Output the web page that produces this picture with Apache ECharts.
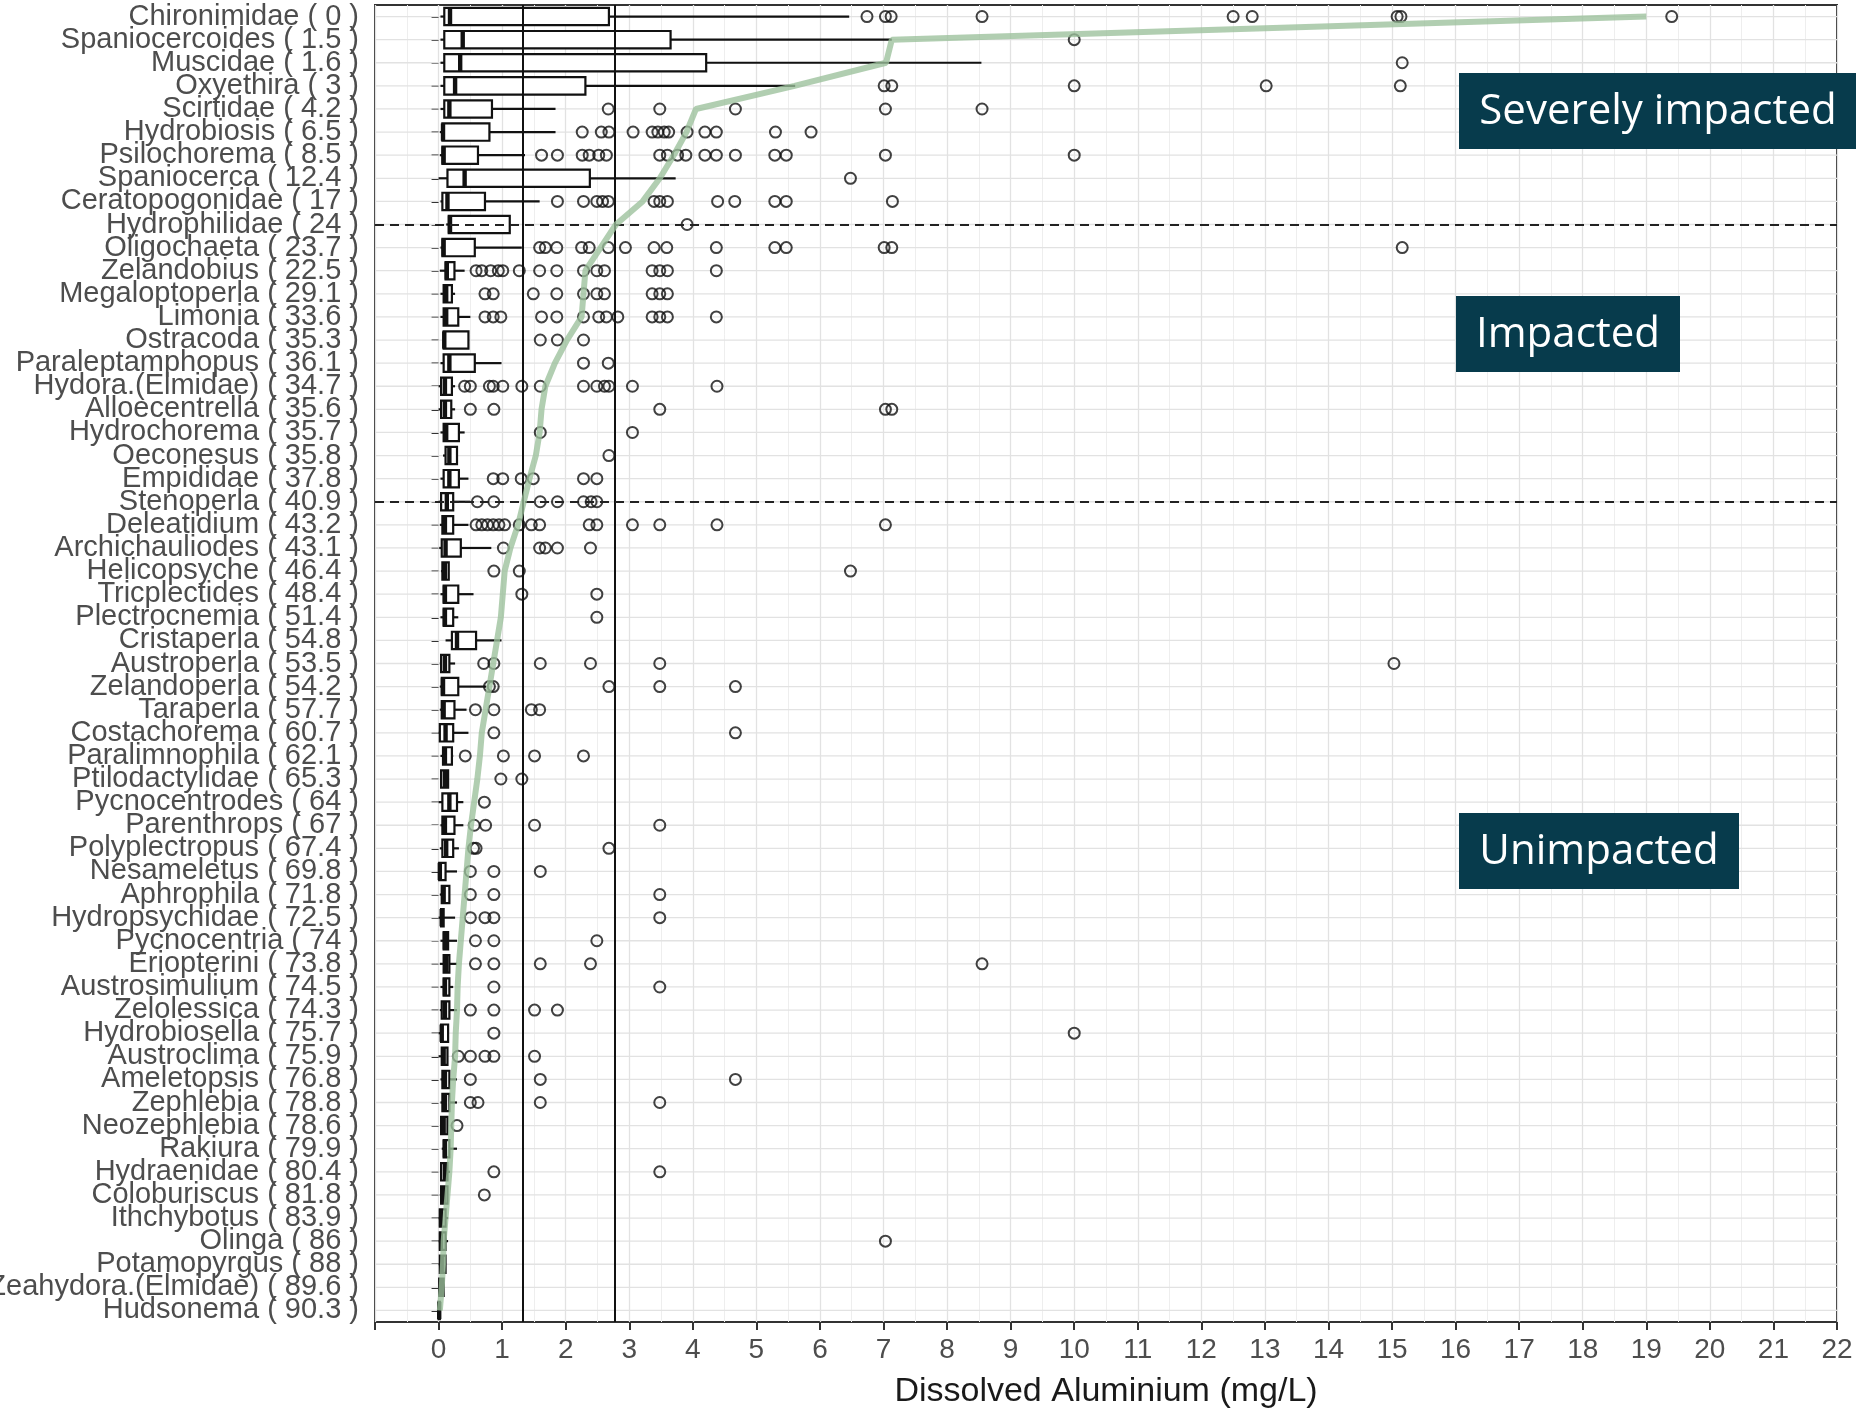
<!DOCTYPE html>
<html>
<head>
<meta charset="utf-8">
<script src="https://cdn.jsdelivr.net/npm/echarts@6/dist/echarts.min.js"></script>
<style>
html,body{margin:0;padding:0;background:#fff;}
#chart{width:1856px;height:1411px;}
</style>
</head>
<body>
<div id="chart"></div>
<script>
const categories = [
  'Chironimidae ( 0 )','Spaniocercoides ( 1.5 )','Muscidae ( 1.6 )','Oxyethira ( 3 )','Scirtidae ( 4.2 )',
  'Hydrobiosis ( 6.5 )','Psilochorema ( 8.5 )','Spaniocerca ( 12.4 )','Ceratopogonidae ( 17 )','Hydrophilidae ( 24 )',
  'Oligochaeta ( 23.7 )','Zelandobius ( 22.5 )','Megaloptoperla ( 29.1 )','Limonia ( 33.6 )','Ostracoda ( 35.3 )',
  'Paraleptamphopus ( 36.1 )','Hydora.(Elmidae) ( 34.7 )','Alloecentrella ( 35.6 )','Hydrochorema ( 35.7 )','Oeconesus ( 35.8 )',
  'Empididae ( 37.8 )','Stenoperla ( 40.9 )','Deleatidium ( 43.2 )','Archichauliodes ( 43.1 )','Helicopsyche ( 46.4 )',
  'Tricplectides ( 48.4 )','Plectrocnemia ( 51.4 )','Cristaperla ( 54.8 )','Austroperla ( 53.5 )','Zelandoperla ( 54.2 )',
  'Taraperla ( 57.7 )','Costachorema ( 60.7 )','Paralimnophila ( 62.1 )','Ptilodactylidae ( 65.3 )','Pycnocentrodes ( 64 )',
  'Parenthrops ( 67 )','Polyplectropus ( 67.4 )','Nesameletus ( 69.8 )','Aphrophila ( 71.8 )','Hydropsychidae ( 72.5 )',
  'Pycnocentria ( 74 )','Eriopterini ( 73.8 )','Austrosimulium ( 74.5 )','Zelolessica ( 74.3 )','Hydrobiosella ( 75.7 )',
  'Austroclima ( 75.9 )','Ameletopsis ( 76.8 )','Zephlebia ( 78.8 )','Neozephlebia ( 78.6 )','Rakiura ( 79.9 )',
  'Hydraenidae ( 80.4 )','Coloburiscus ( 81.8 )','Ithchybotus ( 83.9 )','Olinga ( 86 )','Potamopyrgus ( 88 )',
  'Zeahydora.(Elmidae) ( 89.6 )','Hudsonema ( 90.3 )'
];
const whiskerLow = [0.03,0.03,0.03,0.03,0.03,0.02,0.02,0.0,0.03,0.12,
  0.03,0.02,0.03,0.03,0.08,0.03,0.0,0.0,0.03,0.07,
  0.03,0.0,0.02,0.01,0.04,0.03,0.03,0.11,0.02,0.02,
  0.02,0.0,0.03,0.03,0.0,0.03,0.02,0.0,0.02,0.0,
  0.03,0.02,0.03,0.02,0.0,0.0,0.03,0.03,0.03,0.05,
  0.03,0.02,0.0,0.0,0.0,0.0,0.0];
const q1 = [0.09,0.09,0.09,0.09,0.09,0.06,0.06,0.14,0.06,0.16,
  0.06,0.11,0.08,0.08,0.08,0.08,0.04,0.04,0.08,0.11,
  0.08,0.04,0.06,0.05,0.06,0.08,0.08,0.21,0.04,0.05,
  0.05,0.02,0.07,0.04,0.06,0.06,0.06,0.01,0.05,0.04,
  0.08,0.08,0.08,0.05,0.04,0.05,0.06,0.06,0.04,0.08,
  0.04,0.04,0.02,0.02,0.02,0.01,0.0];
const median = [0.18,0.38,0.34,0.26,0.17,0.07,0.08,0.41,0.14,0.18,
  0.08,0.13,0.12,0.12,0.09,0.17,0.10,0.10,0.12,0.17,
  0.17,0.13,0.10,0.11,0.10,0.10,0.10,0.29,0.10,0.07,
  0.08,0.11,0.10,0.10,0.17,0.10,0.12,0.02,0.08,0.05,
  0.10,0.12,0.10,0.10,0.05,0.08,0.10,0.10,0.08,0.10,
  0.10,0.08,0.04,0.04,0.05,0.04,0.01];
const q3 = [2.68,3.65,4.21,2.31,0.84,0.80,0.62,2.38,0.73,1.12,
  0.57,0.25,0.21,0.31,0.47,0.57,0.21,0.20,0.32,0.29,
  0.32,0.23,0.23,0.35,0.16,0.31,0.23,0.59,0.17,0.31,
  0.25,0.23,0.21,0.15,0.29,0.25,0.23,0.11,0.17,0.08,
  0.15,0.17,0.17,0.17,0.15,0.14,0.17,0.17,0.14,0.17,
  0.14,0.14,0.11,0.11,0.11,0.08,0.02];
const whiskerHigh = [6.46,7.13,8.54,5.61,1.84,1.84,1.36,3.73,1.59,1.12,
  1.31,0.41,0.26,0.50,0.47,0.99,0.26,0.26,0.41,0.29,
  0.47,0.50,0.47,0.83,0.16,0.55,0.31,0.99,0.26,0.75,
  0.44,0.47,0.23,0.15,0.39,0.39,0.32,0.29,0.17,0.26,
  0.29,0.29,0.23,0.29,0.15,0.14,0.29,0.29,0.14,0.29,
  0.18,0.14,0.15,0.15,0.11,0.08,0.02];
const outliers = [
  [6.74,7.03,7.12,8.55,12.5,12.8,15.08,15.14,19.4],
  [10.0],
  [15.16],
  [7.01,7.13,10.0,13.02,15.13],
  [2.67,3.48,4.67,7.03,8.55],
  [2.26,2.56,2.68,3.06,3.36,3.45,3.55,3.62,3.91,4.19,4.37,5.30,5.86],
  [1.62,1.87,2.26,2.37,2.52,2.64,3.48,3.60,3.76,3.89,4.19,4.37,4.67,5.29,5.47,7.03,10.0],
  [6.48],
  [1.87,2.28,2.49,2.58,2.67,3.39,3.48,3.60,4.39,4.66,5.29,5.47,7.14],
  [3.91],
  [1.59,1.68,1.86,2.25,2.37,2.67,2.94,3.39,3.59,4.37,5.29,5.47,7.01,7.13,15.16],
  [0.59,0.68,0.82,0.94,1.01,1.27,1.59,1.86,2.28,2.49,2.61,3.36,3.48,3.60,4.37],
  [0.73,0.86,1.49,1.86,2.28,2.49,2.61,3.36,3.48,3.60],
  [0.73,0.86,0.98,1.62,1.86,2.28,2.52,2.64,2.82,3.36,3.48,3.60,4.37],
  [1.60,1.87,2.28],
  [2.28,2.67],
  [0.41,0.50,0.80,0.86,1.01,1.31,1.60,2.28,2.49,2.61,2.68,3.05,4.38],
  [0.50,0.87,3.48,7.03,7.13],
  [1.60,3.05],
  [2.68],
  [0.86,1.01,1.30,1.49,2.28,2.49],
  [0.61,0.87,1.60,1.87,2.28,2.40,2.49],
  [0.59,0.68,0.77,0.86,0.95,1.04,1.27,1.46,1.59,2.37,2.49,3.05,3.48,4.38,7.03],
  [1.02,1.59,1.68,1.87,2.39],
  [0.87,1.27,6.48],
  [1.31,2.49],
  [2.49],
  [],
  [0.71,0.87,1.60,2.39,3.48,15.03],
  [0.80,0.86,2.68,3.48,4.67],
  [0.58,0.87,1.46,1.59],
  [0.87,4.67],
  [0.42,1.02,1.51,2.28],
  [0.98,1.31],
  [0.72],
  [0.56,0.74,1.51,3.48],
  [0.55,0.59,2.68],
  [0.50,0.87,1.60],
  [0.50,0.87,3.48],
  [0.50,0.73,0.87,3.48],
  [0.58,0.87,2.49],
  [0.58,0.87,1.60,2.39,8.55],
  [0.87,3.48],
  [0.50,0.87,1.51,1.87],
  [0.87,10.0],
  [0.31,0.50,0.73,0.87,1.51],
  [0.50,1.60,4.67],
  [0.50,0.62,1.60,3.48],
  [0.29],
  [],
  [0.87,3.48],
  [0.72],
  [],
  [7.03],
  [],
  [],
  []
];
const trendLine = [19.0,7.13,7.04,5.6,4.05,3.9,3.7,3.48,3.21,2.79,
  2.55,2.31,2.28,2.25,2.02,1.83,1.68,1.62,1.59,1.53,
  1.43,1.34,1.25,1.13,1.04,1.01,0.98,0.92,0.86,0.80,
  0.74,0.68,0.65,0.61,0.56,0.51,0.47,0.44,0.41,0.38,
  0.35,0.32,0.30,0.29,0.27,0.26,0.23,0.21,0.20,0.19,
  0.17,0.14,0.11,0.08,0.07,0.05,0.02];
const thresholds = [1.32, 2.77];
const dividerRows = ['Hydrophilidae ( 24 )', 'Stenoperla ( 40.9 )'];
const zoneLabels = ['Severely impacted', 'Impacted', 'Unimpacted'];
const xTitle = 'Dissolved Aluminium (mg/L)';

const boxData = categories.map((c, i) => [i, whiskerLow[i], q1[i], median[i], q3[i], whiskerHigh[i]]);
const outlierData = [];
outliers.forEach((arr, i) => arr.forEach(v => outlierData.push([v, i])));
const rowData = categories.map((c, i) => [0, i]);
const lineData = trendLine.map((v, i) => [v, i]);

const chart = echarts.init(document.getElementById('chart'), null, {renderer: 'canvas'});
const INK = '#111';

const option = {
  animation: false,
  backgroundColor: '#fff',
  grid: {left: 375, right: 19, top: 5, bottom: 89, outerBoundsMode: 'none', containLabel: false,
    show: true, borderColor: '#333', borderWidth: 2, backgroundColor: '#fff'},
  xAxis: {
    type: 'value', min: -1, max: 22, interval: 1,
    name: xTitle, nameLocation: 'middle', nameGap: 53,
    nameTextStyle: {fontFamily: 'Liberation Sans', fontSize: 34, color: '#1a1a1a'},
    axisLine: {show: false},
    axisTick: {show: true, length: 8, lineStyle: {color: '#333', width: 2}},
    axisLabel: {fontFamily: 'Liberation Sans Narrow, Liberation Sans', fontSize: 28, color: '#4d4d4d', margin: 14,
      formatter: v => (v < 0 ? '' : String(v))},
    splitLine: {show: true, lineStyle: {color: '#e2e2e2', width: 1.3}},
    minorTick: {show: false, splitNumber: 2},
    minorSplitLine: {show: true, lineStyle: {color: '#eeeeee', width: 1}}
  },
  yAxis: {
    type: 'category', data: categories, inverse: true,
    axisLine: {show: false},
    axisTick: {show: true, alignWithLabel: true, length: 7, lineStyle: {color: '#333', width: 2}},
    axisLabel: {fontFamily: 'Liberation Sans', fontSize: 29, color: '#4d4d4d', margin: 16, interval: 0},
    splitLine: {show: false}
  },
  series: [
    {
      type: 'custom', name: 'rows', z: 1, silent: true,
      data: rowData, encode: {x: 0, y: 1},
      renderItem: (params, api) => {
        const y = api.coord([0, api.value(1)])[1];
        const cs = params.coordSys;
        return {type: 'line', shape: {x1: cs.x, y1: y, x2: cs.x + cs.width, y2: y},
          style: {stroke: '#e2e2e2', lineWidth: 1.3}};
      }
    },
    {
      type: 'custom', name: 'boxes', z: 2, silent: true,
      data: boxData, encode: {y: 0, x: [1, 2, 3, 4, 5]},
      renderItem: (params, api) => {
        const idx = api.value(0);
        const pLo = api.coord([api.value(1), idx]);
        const p1 = api.coord([api.value(2), idx]);
        const pM = api.coord([api.value(3), idx]);
        const p3 = api.coord([api.value(4), idx]);
        const pHi = api.coord([api.value(5), idx]);
        const band = api.size([0, 1])[1];
        const h = band * 0.75;
        const y = p1[1];
        const st = {stroke: INK, lineWidth: 2.2, fill: null};
        return {type: 'group', children: [
          {type: 'line', shape: {x1: pLo[0], y1: y, x2: p1[0], y2: y}, style: st},
          {type: 'line', shape: {x1: p3[0], y1: y, x2: pHi[0], y2: y}, style: st},
          {type: 'rect', shape: {x: p1[0], y: y - h / 2, width: Math.max(p3[0] - p1[0], 0.5), height: h},
            style: {stroke: INK, lineWidth: 2.2, fill: '#fff'}},
          {type: 'line', shape: {x1: pM[0], y1: y - h / 2, x2: pM[0], y2: y + h / 2}, style: {stroke: INK, lineWidth: 4.4}}
        ]};
      }
    },
    {
      type: 'scatter', name: 'outliers', z: 3, silent: true,
      data: outlierData, symbol: 'circle', symbolSize: 11,
      itemStyle: {color: 'rgba(0,0,0,0)', borderColor: INK, borderWidth: 2},
      markLine: {
        silent: true, symbol: ['none', 'none'], label: {show: false}, animation: false,
        data: [
          ...thresholds.map(v => ({xAxis: v, lineStyle: {color: INK, width: 2, type: 'solid'}})),
          ...dividerRows.map(c => ({yAxis: categories.indexOf(c), lineStyle: {color: '#222', width: 2, type: [9, 6]}}))
        ]
      }
    },
    {
      type: 'line', name: 'trend', z: 5, silent: true,
      data: lineData, symbol: 'none', smooth: false,
      lineStyle: {color: 'rgba(155,192,155,0.78)', width: 6}
    }
  ],
  graphic: [
    {type: 'rect', shape: {x: 1459, y: 73, width: 397, height: 76}, style: {fill: '#073B4C'}, z: 10},
    {type: 'text', x: 1658, y: 112, z: 11, style: {text: zoneLabels[0], fill: '#fff', font: '42px "Open Sans"', textAlign: 'center', textVerticalAlign: 'middle'}},
    {type: 'rect', shape: {x: 1456, y: 296, width: 224, height: 76}, style: {fill: '#073B4C'}, z: 10},
    {type: 'text', x: 1568, y: 335, z: 11, style: {text: zoneLabels[1], fill: '#fff', font: '42px "Open Sans"', textAlign: 'center', textVerticalAlign: 'middle'}},
    {type: 'rect', shape: {x: 1459, y: 813, width: 280, height: 76}, style: {fill: '#073B4C'}, z: 10},
    {type: 'text', x: 1599, y: 852, z: 11, style: {text: zoneLabels[2], fill: '#fff', font: '42px "Open Sans"', textAlign: 'center', textVerticalAlign: 'middle'}}
  ]
};
chart.setOption(option);
</script>
</body>
</html>
